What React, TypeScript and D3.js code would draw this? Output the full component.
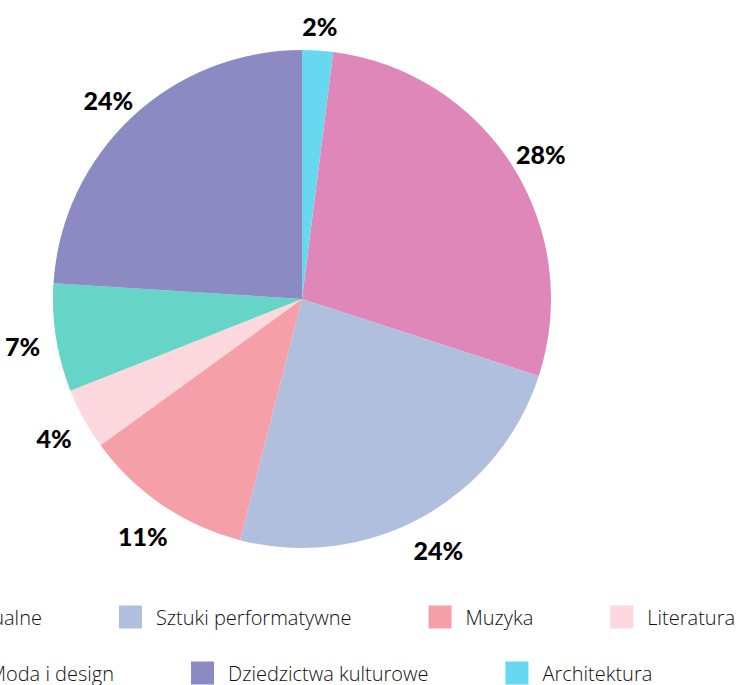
import React, { useEffect, useRef } from "react";
import * as d3 from "d3";

const categories = [
  "Sztuki wizualne",
  "Sztuki performatywne",
  "Muzyka",
  "Literatura",
  "Moda i design",
  "Dziedzictwa kulturowe",
  "Architektura",
];
const values = [28, 24, 11, 4, 7, 24, 2];
const colors = ["#DE87B8", "#B0BFDD", "#F5A0A8", "#FDD8DE", "#66D4C6", "#8B8AC2", "#67D8EF"];
const legendRows = [4, 3];

const W = 744;
const H = 685;

export default function App() {
  const ref = useRef<SVGSVGElement>(null);

  useEffect(() => {
    const svg = d3.select(ref.current);
    svg.selectAll("*").remove();
    const cx = 302;
    const cy = 299;
    const r = 249;
    const total = d3.sum(values);
    const offset = (values[values.length - 1] / total) * 2 * Math.PI;
    const pie = d3
      .pie<number>()
      .sort(null)
      .value((d) => d)
      .startAngle(offset)
      .endAngle(offset + 2 * Math.PI);
    const arcs = pie(values);
    const arc = d3.arc<d3.PieArcDatum<number>>().innerRadius(0).outerRadius(r);
    const g = svg.append("g").attr("transform", `translate(${cx},${cy})`);
    g.selectAll("path.slice")
      .data(arcs)
      .join("path")
      .attr("class", "slice")
      .attr("d", arc)
      .attr("fill", (_, i) => colors[i]);

    const lr = r + 34;
    g.selectAll("text.lbl")
      .data(arcs)
      .join("text")
      .attr("class", "lbl")
      .attr("x", (d) => Math.sin((d.startAngle + d.endAngle) / 2) * lr)
      .attr("y", (d) => -Math.cos((d.startAngle + d.endAngle) / 2) * lr + 6 * Math.max(0, Math.cos((d.startAngle + d.endAngle) / 2)) + 3)
      .attr("text-anchor", "middle")
      .attr("dominant-baseline", "central")
      .attr("font-family", "Lato, 'Open Sans', sans-serif")
      .attr("font-weight", 900)
      .attr("font-size", 25)
      .attr("fill", "#000")
      .text((d) => `${Math.round((d.data / total) * 100)}%`);

    // legend
    const sw = 23;
    const gapText = 14;
    const itemDist = 77;
    const rowY = [617, 673];
    let idx = 0;
    legendRows.forEach((n, ri) => {
      const items = categories.slice(idx, idx + n).map((c, k) => ({ c, i: idx + k }));
      idx += n;
      const row = svg.append("g");
      const itemGs = row
        .selectAll("g.item")
        .data(items)
        .join("g")
        .attr("class", "item");
      itemGs
        .append("rect")
        .attr("width", sw)
        .attr("height", sw)
        .attr("y", -sw / 2)
        .attr("fill", (d) => colors[d.i]);
      const texts = itemGs
        .append("text")
        .attr("x", sw + gapText)
        .attr("dominant-baseline", "central")
        .attr("font-family", "'Open Sans', sans-serif")
        .attr("font-weight", 300)
        .attr("font-size", 20)
        .attr("fill", "#111")
        .text((d) => d.c);
      const widths: number[] = [];
      texts.each(function () {
        widths.push((this as SVGTextElement).getComputedTextLength());
      });
      const itemW = widths.map((w) => sw + gapText + w);
      const totalW = d3.sum(itemW) + itemDist * (n - 1);
      let x = cx - totalW / 2;
      itemGs.attr("transform", (_, k) => {
        const t = `translate(${x},${rowY[ri]})`;
        x += itemW[k] + itemDist;
        return t;
      });
    });
  }, []);

  return (
    <svg
      ref={ref}
      width={W}
      height={H}
      style={{ position: "absolute", left: 0, top: 0, background: "#fff" }}
    />
  );
}
